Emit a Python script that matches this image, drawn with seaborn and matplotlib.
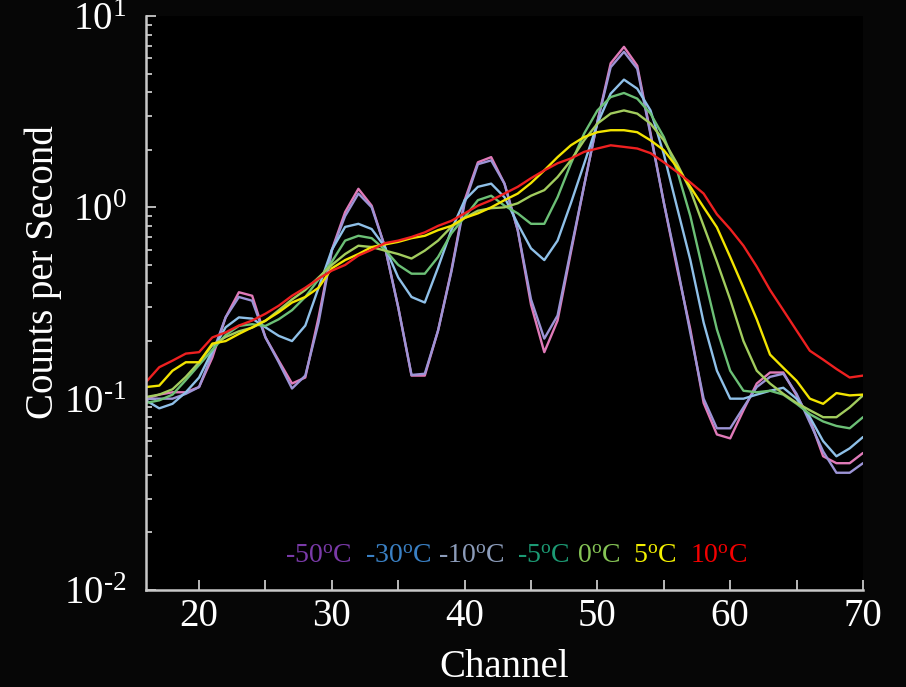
import numpy as np
import pandas as pd
import matplotlib
matplotlib.use("Agg")
import matplotlib.pyplot as plt
import seaborn as sns
from matplotlib.ticker import FixedLocator, FixedFormatter, LogLocator, NullFormatter

# ---------------- data ----------------
channels = list(range(16, 71))
temps = ["-50", "-30", "-10", "-5", "0", "5", "10"]

cps_m50 = [0.100, 0.105, 0.108, 0.108, 0.115, 0.164, 0.266, 0.360, 0.345, 0.209,
           0.158, 0.120, 0.129, 0.266, 0.600, 0.945, 1.25, 1.02, 0.62, 0.30,
           0.132, 0.132, 0.227, 0.467, 1.09, 1.72, 1.83, 1.33, 0.76, 0.31,
           0.175, 0.256, 0.58, 1.30, 2.80, 5.66, 6.90, 5.50, 2.45, 1.06,
           0.48, 0.23, 0.095, 0.065, 0.062, 0.087, 0.120, 0.137, 0.137, 0.104,
           0.078, 0.050, 0.046, 0.046, 0.052]
cps_m30 = [0.100, 0.100, 0.100, 0.106, 0.115, 0.172, 0.266, 0.340, 0.325, 0.209,
           0.155, 0.113, 0.132, 0.250, 0.594, 0.90, 1.18, 1.00, 0.62, 0.30,
           0.133, 0.135, 0.227, 0.46, 1.05, 1.68, 1.76, 1.33, 0.76, 0.33,
           0.206, 0.272, 0.60, 1.30, 2.80, 5.40, 6.50, 5.30, 2.40, 1.06,
           0.50, 0.22, 0.100, 0.070, 0.070, 0.090, 0.115, 0.130, 0.135, 0.106,
           0.075, 0.053, 0.041, 0.041, 0.046]
cps_m10 = [0.098, 0.089, 0.094, 0.108, 0.129, 0.178, 0.236, 0.266, 0.262, 0.236,
           0.213, 0.200, 0.241, 0.380, 0.600, 0.79, 0.82, 0.77, 0.62, 0.43,
           0.34, 0.318, 0.485, 0.76, 1.09, 1.28, 1.33, 1.13, 0.82, 0.61,
           0.53, 0.67, 1.05, 1.69, 2.74, 3.93, 4.65, 4.17, 3.21, 1.90,
           1.00, 0.53, 0.25, 0.14, 0.100, 0.100, 0.105, 0.110, 0.114, 0.100,
           0.080, 0.060, 0.050, 0.055, 0.063]
cps_m5 = [0.095, 0.098, 0.105, 0.125, 0.150, 0.180, 0.215, 0.240, 0.245, 0.240,
          0.260, 0.290, 0.340, 0.420, 0.520, 0.67, 0.71, 0.69, 0.60, 0.50,
          0.45, 0.45, 0.55, 0.73, 0.89, 1.09, 1.15, 1.02, 0.93, 0.82,
          0.82, 1.13, 1.69, 2.43, 3.21, 3.77, 3.96, 3.70, 3.09, 2.33,
          1.56, 0.90, 0.45, 0.23, 0.140, 0.110, 0.108, 0.110, 0.105, 0.094,
          0.083, 0.076, 0.072, 0.070, 0.080]
cps_0 = [0.102, 0.105, 0.112, 0.130, 0.155, 0.190, 0.210, 0.225, 0.235, 0.255,
         0.290, 0.330, 0.370, 0.430, 0.500, 0.57, 0.63, 0.62, 0.594, 0.57,
         0.54, 0.594, 0.67, 0.79, 0.88, 0.96, 0.99, 1.00, 1.05, 1.15,
         1.23, 1.44, 1.76, 2.24, 2.74, 3.09, 3.21, 3.09, 2.74, 2.24,
         1.69, 1.23, 0.80, 0.52, 0.33, 0.200, 0.140, 0.120, 0.106, 0.095,
         0.087, 0.080, 0.080, 0.090, 0.104]
cps_5 = [0.115, 0.117, 0.140, 0.155, 0.155, 0.194, 0.200, 0.218, 0.236, 0.256,
         0.283, 0.318, 0.340, 0.380, 0.480, 0.53, 0.57, 0.62, 0.64, 0.66,
         0.69, 0.71, 0.76, 0.80, 0.88, 0.93, 1.00, 1.09, 1.18, 1.34,
         1.56, 1.83, 2.11, 2.33, 2.47, 2.53, 2.53, 2.47, 2.24, 1.99,
         1.62, 1.28, 1.00, 0.786, 0.55, 0.38, 0.26, 0.170, 0.145, 0.124,
         0.100, 0.094, 0.107, 0.104, 0.105]
cps_10 = [0.122, 0.146, 0.158, 0.172, 0.175, 0.209, 0.222, 0.241, 0.256, 0.278,
          0.306, 0.345, 0.380, 0.424, 0.467, 0.50, 0.56, 0.60, 0.65, 0.67,
          0.70, 0.74, 0.80, 0.85, 0.93, 1.02, 1.09, 1.18, 1.28, 1.42,
          1.56, 1.70, 1.80, 1.95, 2.03, 2.11, 2.07, 2.03, 1.92, 1.72,
          1.53, 1.35, 1.18, 0.92, 0.77, 0.63, 0.49, 0.37, 0.29, 0.227,
          0.178, 0.160, 0.143, 0.129, 0.132]

series = [cps_m50, cps_m30, cps_m10, cps_m5, cps_0, cps_5, cps_10]
legend_labels = ["-50", "-30", "-10", "-5", "0", "5", "10"]

x_major = [20, 30, 40, 50, 60, 70]
x_minor = [25, 35, 45, 55, 65]
y_major = [0.01, 0.1, 1, 10]
y_labels = [r"10$^{\text{-}2}$", r"10$^{\text{-}1}$", r"10$^{0}$", r"10$^{1}$"]

# ---------------- style ----------------
line_colors = {"-50": "#e07ab8", "-30": "#9c94d6", "-10": "#8fc0e8", "-5": "#6cc076",
               "0": "#a2cc5e", "5": "#f2e400", "10": "#ee2020"}
legend_colors = ["#7a3aa8", "#3a80c4", "#8c9cba", "#1c9a74", "#86c456", "#f4f000", "#f40000"]

sns.set_style("dark")
plt.rcParams["font.family"] = ["Liberation Serif", "DejaVu Serif"]
plt.rcParams["mathtext.fontset"] = "custom"
plt.rcParams["mathtext.rm"] = "Liberation Serif"
plt.rcParams["mathtext.it"] = "Liberation Serif:italic"
plt.rcParams["mathtext.bf"] = "Liberation Serif:bold"

df = pd.concat([pd.DataFrame({"Channel": channels, "CPS": vals, "Temp": t})
                for t, vals in zip(temps, series)], ignore_index=True)

fig = plt.figure(figsize=(9.06, 6.87), dpi=100, facecolor="#060606")
ax = fig.add_axes([0.1611, 0.1412, 0.7914, 0.8355])
ax.set_facecolor("black")

sns.lineplot(data=df, x="Channel", y="CPS", hue="Temp", hue_order=temps,
             palette=line_colors, linewidth=1.7, legend=False, ax=ax,
             estimator=None, sort=False)

ax.set_yscale("log")
ax.set_xlim(16, 70)
ax.set_ylim(0.01, 10)
ax.grid(False)

for s in ["top", "right"]:
    ax.spines[s].set_visible(False)
for s in ["left", "bottom"]:
    ax.spines[s].set_color("#c8c8c8")
    ax.spines[s].set_linewidth(1.8)

ax.xaxis.set_major_locator(FixedLocator(x_major))
ax.xaxis.set_minor_locator(FixedLocator(x_minor))
ax.xaxis.set_minor_formatter(NullFormatter())
ax.yaxis.set_major_locator(FixedLocator(y_major))
ax.yaxis.set_major_formatter(FixedFormatter(y_labels))
ax.yaxis.set_minor_locator(LogLocator(base=10, subs=np.arange(2, 10), numticks=20))
ax.yaxis.set_minor_formatter(NullFormatter())

ax.tick_params(axis="both", which="both", direction="in", color="#c8c8c8",
               labelcolor="white", labelsize=28, width=1.3)
ax.tick_params(axis="x", which="both", length=7, pad=6, bottom=True)
ax.tick_params(axis="y", which="major", length=7, pad=14, left=True)
ax.tick_params(axis="y", which="minor", length=4, left=True)

ax.set_xlabel("Channel", color="white", fontsize=28)
ax.set_ylabel("Counts per Second", color="white", fontsize=28)
ax.xaxis.set_label_coords(0.5, -0.102)
ax.yaxis.set_label_coords(-0.117, 0.554)

legend_x = [0.194, 0.305, 0.407, 0.517, 0.601, 0.679, 0.759]
for lx, lab, col in zip(legend_x, legend_labels, legend_colors):
    ax.text(lx, 0.058, lab + r"$^{\mathrm{o}}$C", transform=ax.transAxes,
            color=col, fontsize=20, ha="left", va="center")

fig.savefig("out.png", dpi=100, facecolor=fig.get_facecolor())
